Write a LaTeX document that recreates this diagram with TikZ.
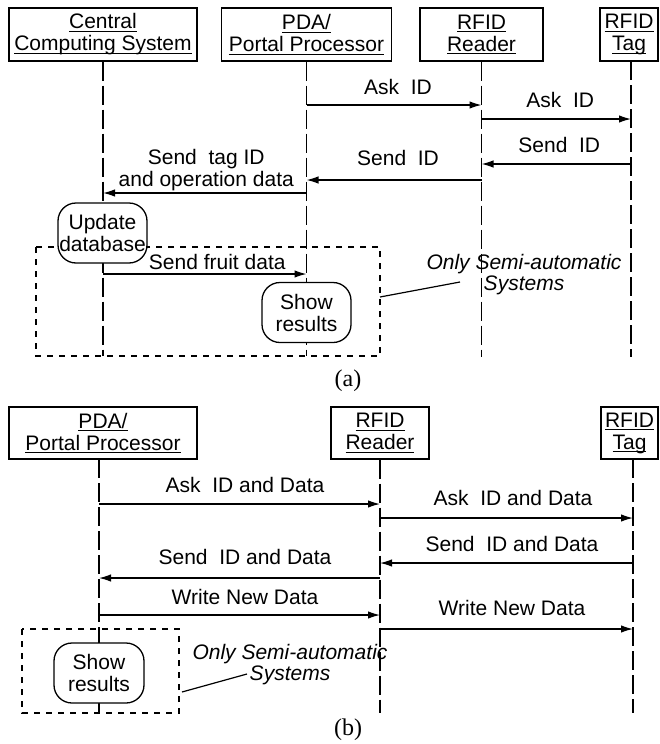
\documentclass[tikz,border=0pt]{standalone}
\usepackage{fontspec}
\setmainfont{Liberation Sans}
\newfontfamily\capfont{Liberation Serif}
\usetikzlibrary{arrows.meta}
\newcommand\hul[1]{\setbox0\hbox{#1}\rlap{\rule[-3.2pt]{\wd0}{1.1pt}}\box0}
\begin{document}
\begin{tikzpicture}[x=1pt,y=-1pt,
  every node/.style={font=\fontsize{21}{22}\selectfont},
  hdr/.style={draw, line width=1.4pt, align=center, minimum height=53pt, inner sep=0pt},
  life/.style={line width=1.3pt, dash pattern=on 19pt off 5pt},
  msg/.style={line width=1.3pt, -{Latex[length=12pt,width=7.5pt]}},
  lbl/.style={anchor=base, inner sep=0pt},
  act/.style={draw, line width=1.3pt, rounded corners=18pt, fill=white, align=center,
              minimum width=89pt, minimum height=60pt, inner sep=0pt},
  opt/.style={draw, line width=1.1pt, dash pattern=on 6pt off 6pt},
  note/.style={font=\fontsize{21}{21}\selectfont\itshape, align=center, inner sep=0pt},
  ptr/.style={line width=1.2pt},
  figcap/.style={font=\fontsize{24}{24}\selectfont\capfont, inner sep=0pt}]
\useasboundingbox (0,0) rectangle (660,744);

% ---------- (a) ----------
\node[hdr, minimum width=188pt] (cA) at (103,34.5) {\hul{Central}\\\hul{Computing System}};
\node[hdr, minimum width=170pt] (pA) at (306.5,34.5) {\hul{PDA/}\\\hul{Portal Processor}};
\node[hdr, minimum width=123pt] (rA) at (481.5,34.5) {\hul{RFID}\\\hul{Reader}};
\node[hdr, minimum width=58pt] (tA) at (629,34.5) {\hul{RFID}\\\hul{Tag}};

\coordinate (cAend) at (103,356);
\coordinate (pAend) at (306.5,356);
\coordinate (rAend) at (481.5,357);
\coordinate (tAtop) at (631,61);
\coordinate (tAend) at (631,357);

\draw[opt] (36,247) rectangle (380,356);

\draw[life] (cA.south) -- (cAend);
\draw[life] (pA.south) -- (pAend);
\draw[life] (rA.south) -- (rAend);
\draw[life] (tAtop) -- (tAend);

\coordinate (a1s) at (306.5,105); \coordinate (a1e) at (481.5,105);
\coordinate (a2s) at (481.5,119); \coordinate (a2e) at (631,119);
\coordinate (a3s) at (631,164);   \coordinate (a3e) at (481.5,164);
\coordinate (a4s) at (481.5,180); \coordinate (a4e) at (306.5,180);
\coordinate (a5s) at (306.5,193); \coordinate (a5e) at (103,193);
\coordinate (a6s) at (103,274);   \coordinate (a6e) at (306.5,274);

\draw[msg] (a1s) -- (a1e) node[lbl, midway, xshift=4pt, yshift=10.5pt] {Ask\ \ ID};
\draw[msg] (a2s) -- (a2e) node[lbl, midway, xshift=4pt, yshift=11.5pt] {Ask\ \ ID};
\draw[msg] (a3s) -- (a3e) node[lbl, midway, xshift=3pt, yshift=12pt] {Send\ \ ID};
\draw[msg] (a4s) -- (a4e) node[lbl, midway, xshift=4pt, yshift=14.5pt] {Send\ \ ID};
\draw[msg] (a5s) -- (a5e) node[midway, anchor=south, align=center, inner sep=0pt, xshift=1.5pt, yshift=1pt] {Send\ \ tag ID\\and operation data};
\draw[msg] (a6s) -- (a6e) node[lbl, midway, xshift=12.5pt, yshift=4.5pt] {Send fruit data};

\node[act] (upd) at (102.5,233) {Update\\database};
\node[act] (shA) at (306.5,312.5) {Show\\results};

\node[note, anchor=north] (noteA) at (524,254) {Only Semi-automatic\\Systems};
\coordinate (pA1) at (380,297);
\coordinate (pA2) at (460,282);
\draw[ptr] (pA1) -- (pA2);

\node[figcap] (capA) at (348,381) {(a)};

% ---------- (b) ----------
\node[hdr, minimum width=188pt, minimum height=52pt] (pB) at (103,433) {\hul{PDA/}\\\hul{Portal Processor}};
\node[hdr, minimum width=98pt, minimum height=52pt] (rB) at (380,433) {\hul{RFID}\\\hul{Reader}};
\node[hdr, minimum width=57pt, minimum height=52pt] (tB) at (629.5,433) {\hul{RFID}\\\hul{Tag}};

\coordinate (pBtop) at (99,459);  \coordinate (pBend) at (99,713);
\coordinate (rBend) at (380,713);
\coordinate (tBtop) at (633,459); \coordinate (tBend) at (633,713);

\draw[opt] (22,629) rectangle (179,713);

\draw[life] (pBtop) -- (pBend);
\draw[life] (rB.south) -- (rBend);
\draw[life] (tBtop) -- (tBend);

\coordinate (b1s) at (99,504);  \coordinate (b1e) at (380,504);
\coordinate (b2s) at (380,518); \coordinate (b2e) at (633,518);
\coordinate (b3s) at (633,563); \coordinate (b3e) at (380,563);
\coordinate (b4s) at (380,578); \coordinate (b4e) at (99,578);
\coordinate (b5s) at (99,615);  \coordinate (b5e) at (380,615);
\coordinate (b6s) at (380,629); \coordinate (b6e) at (633,629);

\draw[msg] (b1s) -- (b1e) node[lbl, midway, xshift=5.5pt, yshift=11.5pt] {Ask\ \ ID and Data};
\draw[msg] (b2s) -- (b2e) node[lbl, midway, xshift=6.5pt, yshift=12.5pt] {Ask\ \ ID and Data};
\draw[msg] (b3s) -- (b3e) node[lbl, midway, xshift=5.5pt, yshift=11.5pt] {Send\ \ ID and Data};
\draw[msg] (b4s) -- (b4e) node[lbl, midway, xshift=5.5pt, yshift=13.5pt] {Send\ \ ID and Data};
\draw[msg] (b5s) -- (b5e) node[lbl, midway, xshift=5.5pt, yshift=10.5pt] {Write New Data};
\draw[msg] (b6s) -- (b6e) node[lbl, midway, xshift=5.5pt, yshift=13.5pt] {Write New Data};

\node[act, minimum width=90pt] (shB) at (99,673) {Show\\results};

\node[note, anchor=north] (noteB) at (290,644) {Only Semi-automatic\\Systems};
\coordinate (pB1) at (182,692);
\coordinate (pB2) at (247,674);
\draw[ptr] (pB1) -- (pB2);

\node[figcap] (capB) at (348,730) {(b)};
\end{tikzpicture}
\end{document}
